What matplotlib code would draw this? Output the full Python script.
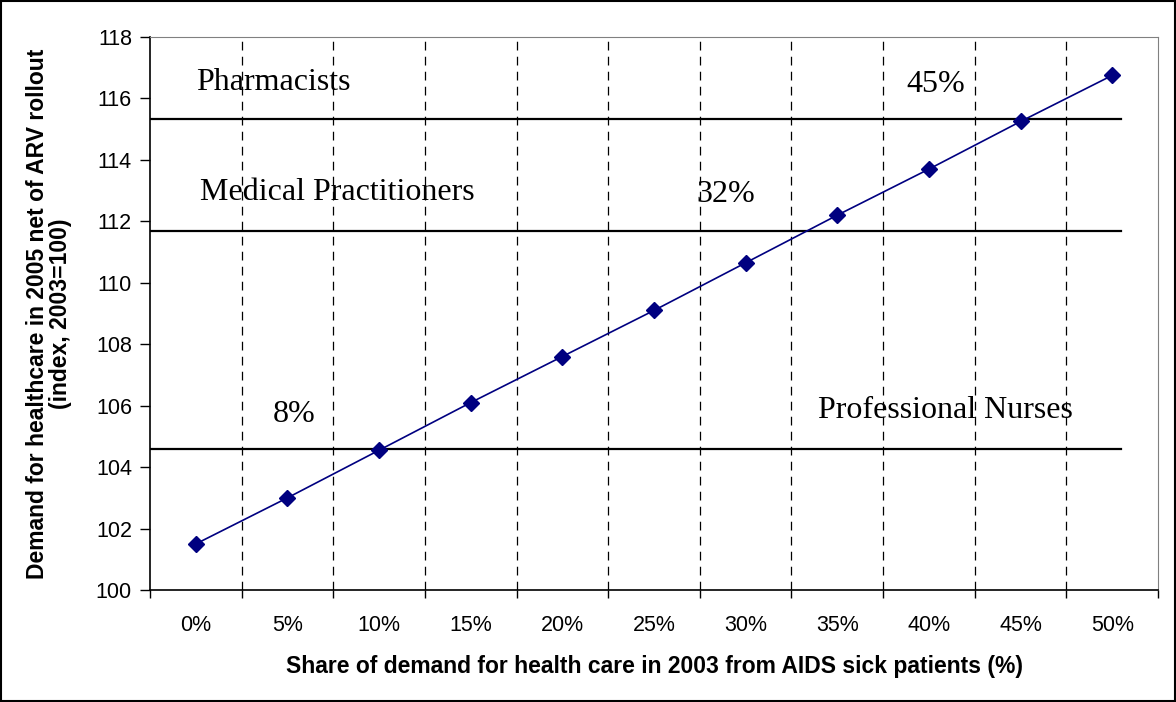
import numpy as np
import matplotlib
matplotlib.use("Agg")
import matplotlib.pyplot as plt
from matplotlib.patches import Rectangle

# share of 2003 demand from AIDS sick patients
categories = ["0%", "5%", "10%", "15%", "20%", "25%", "30%", "35%", "40%", "45%", "50%"]
demand_index = [101.5, 103.0, 104.55, 106.1, 107.6, 109.1, 110.65, 112.2, 113.7, 115.25, 116.75]

# thresholds for each profession
thresholds = [115.33, 111.7, 104.58]
threshold_labels = ["Pharmacists", "Medical Practitioners", "Professional Nurses"]
pct_labels = ["45%", "32%", "8%"]

fig = plt.figure(figsize=(11.76, 7.02), dpi=100)
ax = fig.add_axes([150 / 1176, 1 - 590 / 702, 1008 / 1176, 553 / 702])

x = np.arange(len(categories))
ax.set_xlim(-0.5, len(categories) - 0.5)
ax.set_ylim(100, 118)

# dashed separators between categories
for b in np.arange(0.5, len(categories) - 1, 1.0):
    ax.axvline(b, color="black", lw=0.9, dashes=(7, 5), zorder=1)

for t in thresholds:
    ax.axhline(t, xmin=0, xmax=0.963, color="black", lw=1.6, zorder=2)

ax.plot(x, demand_index, color="#000080", lw=1.2, marker="D", ms=8,
        markerfacecolor="#000080", markeredgecolor="#000080", zorder=3)

serif = dict(family="Liberation Serif", fontsize=23, color="black", va="baseline", ha="left")
ax.text(0.0, 116.28, threshold_labels[0], **serif)
ax.text(0.05, 112.7, threshold_labels[1], **serif)
ax.text(6.79, 105.6, threshold_labels[2], **serif)
ax.text(7.75, 116.22, pct_labels[0], **serif)
ax.text(5.46, 112.63, pct_labels[1], **serif)
ax.text(0.84, 105.47, pct_labels[2], **serif)

ax.set_yticks(np.arange(100, 119, 2))
ax.set_xticks(x)
ax.set_xticklabels(categories)
ax.set_xticks(np.arange(-0.5, len(categories), 1.0), minor=True)
ax.tick_params(axis="x", which="major", length=0, pad=18)
ax.tick_params(axis="x", which="minor", length=6, width=1, direction="out")
ax.tick_params(axis="y", length=7, width=1, direction="out", pad=6)
for lab in ax.get_xticklabels() + ax.get_yticklabels():
    lab.set_family("Liberation Sans")
    lab.set_fontsize(15.5)

ax.spines["left"].set_linewidth(1.2)
ax.spines["bottom"].set_linewidth(1.2)
ax.spines["top"].set_color("#808080")
ax.spines["right"].set_color("#808080")

ax.set_xlabel("Share of demand for health care in 2003 from AIDS sick patients (%)",
              family="Liberation Sans", fontsize=16.5, fontweight="bold", labelpad=14)
ax.set_ylabel("Demand for healthcare in 2005 net of ARV rollout\n(index, 2003=100)",
              family="Liberation Sans", fontsize=16.5, fontweight="bold", labelpad=17,
              linespacing=1.0)

fig.patches.append(Rectangle((0.001, 0.001), 0.998, 0.997, transform=fig.transFigure,
                             fill=False, edgecolor="black", lw=1.5))

fig.savefig("out.png", dpi=100)
